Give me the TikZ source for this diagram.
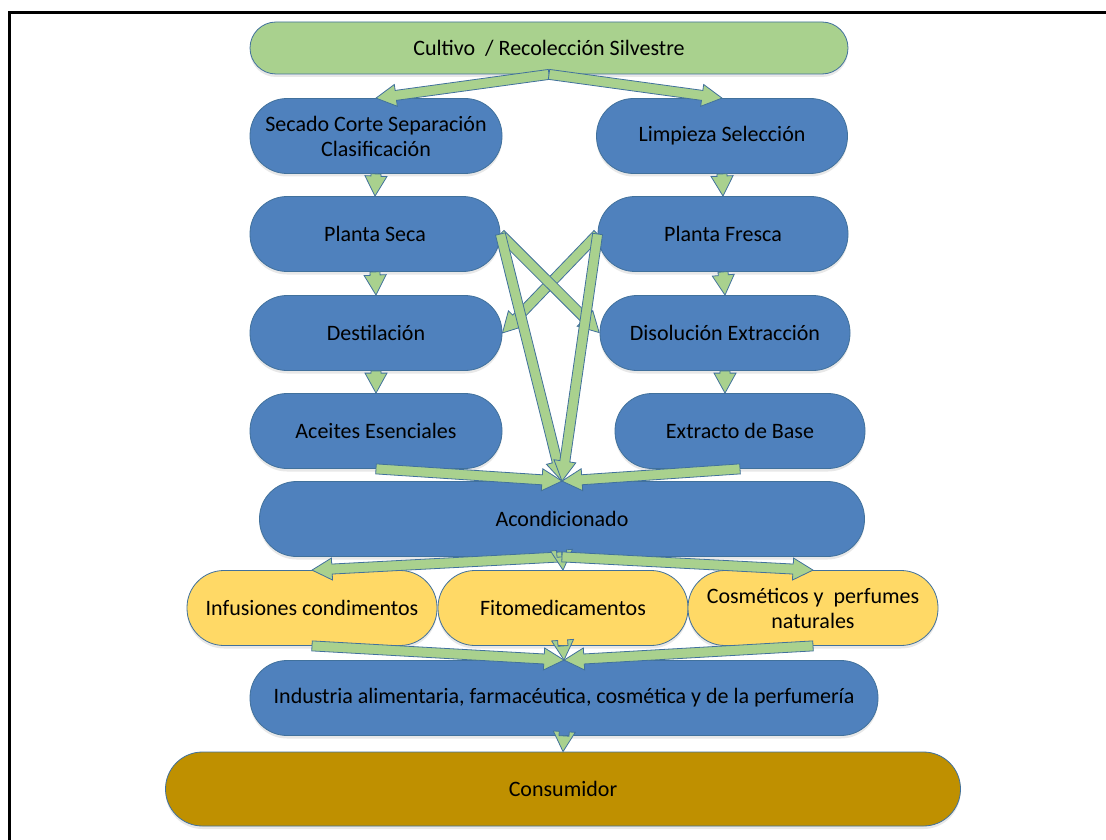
\documentclass[tikz,border=0pt]{standalone}
\usepackage{fontspec}
\setmainfont{Carlito}
\usetikzlibrary{calc,shadows}
\definecolor{boxblue}{HTML}{4F81BD}
\definecolor{edgeblue}{HTML}{41719C}
\definecolor{lgreen}{HTML}{A9D18E}
\definecolor{lyellow}{HTML}{FFD966}
\definecolor{goldbox}{HTML}{BF9000}
\newcommand\barrow[2]{%
  \path[arrowstyle] let \p1=(#1), \p2=(#2),
    \n1={atan2(\y2-\y1,\x2-\x1)}, \n2={veclen(\x2-\x1,\y2-\y1)} in
    ([shift={(\p1)},rotate=\n1]0pt,-5pt)
    -- ([shift={(\p1)},rotate=\n1]{\n2-20pt},-5pt)
    -- ([shift={(\p1)},rotate=\n1]{\n2-20pt},-11pt)
    -- ([shift={(\p1)},rotate=\n1]{\n2},0pt)
    -- ([shift={(\p1)},rotate=\n1]{\n2-20pt},11pt)
    -- ([shift={(\p1)},rotate=\n1]{\n2-20pt},5pt)
    -- ([shift={(\p1)},rotate=\n1]0pt,5pt) -- cycle;}
\begin{document}
\begin{tikzpicture}[x=1pt,y=-1pt,
  arrowstyle/.style={draw=edgeblue, fill=lgreen, line width=0.8pt, line join=miter},
  basebox/.style={rectangle, rounded corners=37pt, draw=edgeblue, line width=0.8pt,
    text=black, font=\fontsize{22}{25}\selectfont, inner sep=0pt, align=center,
    minimum height=75pt, minimum width=250pt,
    drop shadow={shadow xshift=0pt, shadow yshift=-3pt, opacity=0.18, fill=gray}},
  bluebox/.style={basebox, fill=boxblue},
  greenbox/.style={basebox, fill=lgreen, rounded corners=26pt, minimum height=52pt},
  yellowbox/.style={basebox, fill=lyellow},
  goldbox/.style={basebox, fill=goldbox}]
\useasboundingbox (0,0) rectangle (1106,840);
\fill[white] (0,0) rectangle (1106,840);
\draw[line width=3pt] (9,840) -- (9,13) -- (1106,13);

\node[greenbox, minimum width=598pt] (cultivo) at (549,48) {Cultivo\ \ / Recolección Silvestre};
\node[bluebox, minimum width=252pt] (secado) at (376,136) {Secado Corte Separación\\Clasificación};
\node[bluebox, minimum width=251pt] (limpieza) at (722,136) {Limpieza Selección};
\node[bluebox] (pseca) at (375,234) {Planta Seca};
\node[bluebox] (pfresca) at (723,234) {Planta Fresca};
\node[bluebox, minimum width=252pt] (destil) at (376,333) {Destilación};
\node[bluebox] (disol) at (725,333) {Disolución Extracción};
\node[bluebox, minimum width=252pt] (aceites) at (376,431) {Aceites Esenciales};
\node[bluebox] (extracto) at (740,431) {Extracto de Base};
\node[bluebox, minimum width=605pt] (acond) at (562,519) {Acondicionado};
\node[yellowbox] (infus) at (312,608) {Infusiones condimentos};
\node[yellowbox] (fito) at (563,608) {Fitomedicamentos};
\node[yellowbox] (cosm) at (813,608) {Cosméticos y\ \ perfumes\\naturales};
\node[bluebox, minimum width=628pt] (industria) at (564,698) {Industria alimentaria, farmacéutica, cosmética y de la perfumería};
\node[goldbox, minimum width=795pt, minimum height=74pt] (consumidor) at (563,789) {Consumidor};

\barrow{cultivo.south}{secado.north}
\barrow{cultivo.south}{limpieza.north}
\barrow{secado.south}{pseca.north}
\barrow{limpieza.south}{pfresca.north}
\barrow{pseca.south}{destil.north}
\barrow{pfresca.south}{disol.north}
\barrow{destil.south}{aceites.north}
\barrow{disol.south}{disol.south |- extracto.north}
\barrow{pfresca.west}{destil.east}
\barrow{pseca.east}{disol.west}
\barrow{pseca.east}{acond.north}
\barrow{pfresca.west}{acond.north}
\barrow{aceites.south}{acond.north}
\barrow{extracto.south}{acond.north}
\barrow{acond.south}{infus.north}
\barrow{acond.south}{fito.north}
\barrow{acond.south}{cosm.north}
\barrow{infus.south}{industria.north}
\barrow{fito.south}{industria.north}
\barrow{cosm.south}{industria.north}
\barrow{industria.south}{consumidor.north}
\end{tikzpicture}
\end{document}
